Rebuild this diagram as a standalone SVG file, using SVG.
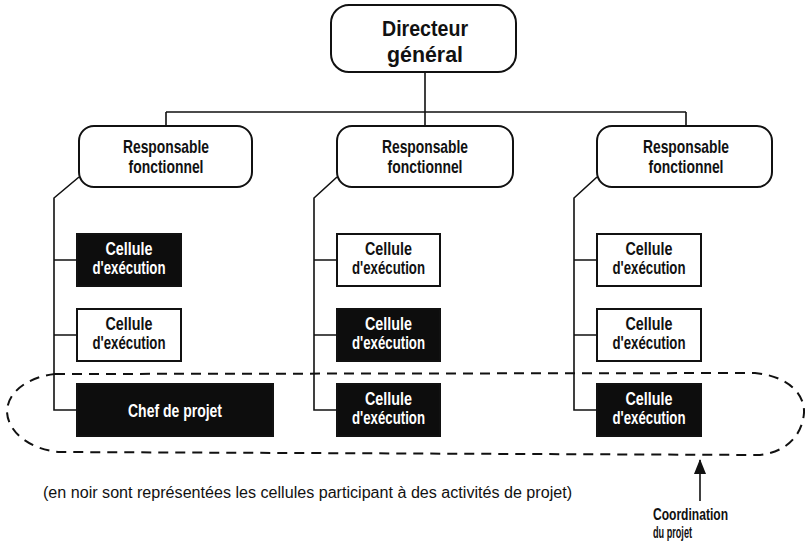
<svg xmlns="http://www.w3.org/2000/svg" width="805" height="545" viewBox="0 0 805 545">
  <style>
    .rbox { fill: #fff; stroke: #111; stroke-width: 2; }
    .cell { fill: #fff; stroke: #111; stroke-width: 2; }
    .cell.dark { fill: #0d0d0d; }
    .lbl { font-family: "Liberation Sans", Arial, sans-serif; font-weight: bold; fill: #111; text-anchor: middle; }
    .dark-lbl { fill: #fff; }
    .wire { fill: none; stroke: #111; stroke-width: 1.6; }
    .note { font-family: "Liberation Sans", Arial, sans-serif; fill: #111; }
  </style>
  <defs>
    <marker id="arrow" viewBox="0 0 15 12" refX="14" refY="6" markerWidth="15" markerHeight="12" markerUnits="userSpaceOnUse" orient="auto">
      <path d="M0,0 L15,6 L0,12 Z" fill="#111"/>
    </marker>
  </defs>

  <rect width="805" height="545" fill="#fff"/>

  <!-- connectors -->
  <g id="connectors">
    <path class="wire" d="M425,72 V112 M166,112 H686 M166,112 V126 M425,112 V126 M686,112 V126"/>
    <!-- left branch -->
    <path class="wire" d="M79,177 L54,198 V410 H77 M54,260 H77 M54,335 H77"/>
    <!-- middle branch -->
    <path class="wire" d="M337,177 L314,198 V410 H337 M314,260 H337 M314,335 H337"/>
    <!-- right branch -->
    <path class="wire" d="M597,177 L574,198 V410 H597 M574,260 H597 M574,335 H597"/>
    <!-- project coordination ring -->
    <path fill="none" stroke="#111" stroke-width="2" stroke-dasharray="10 7" d="M55,374 L755,373 C788,376 805,394 804,413 C802,436 786,452 760,455 L60,452 C30,450 8,432 7,412 C7,392 28,377 55,374 Z"/>
    <path class="wire" stroke-width="2" d="M700,501 V460" marker-end="url(#arrow)"/>
  </g>

  <g id="directeur">
    <rect class="rbox" x="331" y="5" width="185" height="67" rx="18"/>
    <text class="lbl" x="425" y="36" font-size="22" textLength="86" lengthAdjust="spacingAndGlyphs">Directeur</text>
    <text class="lbl" x="425" y="62" font-size="22" textLength="76" lengthAdjust="spacingAndGlyphs">général</text>
  </g>

  <g id="resp-1">
    <rect class="rbox" x="79" y="126" width="173" height="61" rx="15"/>
    <text class="lbl" x="166" y="153" font-size="19" textLength="86" lengthAdjust="spacingAndGlyphs">Responsable</text>
    <text class="lbl" x="166" y="173" font-size="19" textLength="75" lengthAdjust="spacingAndGlyphs">fonctionnel</text>
  </g>
  <g id="resp-2">
    <rect class="rbox" x="337" y="126" width="176" height="61" rx="15"/>
    <text class="lbl" x="425" y="153" font-size="19" textLength="86" lengthAdjust="spacingAndGlyphs">Responsable</text>
    <text class="lbl" x="425" y="173" font-size="19" textLength="75" lengthAdjust="spacingAndGlyphs">fonctionnel</text>
  </g>
  <g id="resp-3">
    <rect class="rbox" x="597" y="126" width="175" height="61" rx="15"/>
    <text class="lbl" x="686" y="153" font-size="19" textLength="86" lengthAdjust="spacingAndGlyphs">Responsable</text>
    <text class="lbl" x="686" y="173" font-size="19" textLength="75" lengthAdjust="spacingAndGlyphs">fonctionnel</text>
  </g>

  <!-- left column -->
  <g id="cell-1a">
    <rect class="cell dark" x="77" y="234" width="104" height="52"/>
    <text class="lbl dark-lbl" x="129" y="255" font-size="19" textLength="47" lengthAdjust="spacingAndGlyphs">Cellule</text>
    <text class="lbl dark-lbl" x="129" y="274" font-size="19" textLength="73" lengthAdjust="spacingAndGlyphs">d'exécution</text>
  </g>
  <g id="cell-1b">
    <rect class="cell" x="77" y="309" width="104" height="52"/>
    <text class="lbl" x="129" y="330" font-size="19" textLength="47" lengthAdjust="spacingAndGlyphs">Cellule</text>
    <text class="lbl" x="129" y="349" font-size="19" textLength="73" lengthAdjust="spacingAndGlyphs">d'exécution</text>
  </g>
  <g id="chef-projet">
    <rect class="cell dark" x="77" y="384" width="196" height="52"/>
    <text class="lbl dark-lbl" x="175" y="417" font-size="19" textLength="94" lengthAdjust="spacingAndGlyphs">Chef de projet</text>
  </g>

  <!-- middle column -->
  <g id="cell-2a">
    <rect class="cell" x="337" y="234" width="103" height="52"/>
    <text class="lbl" x="388.5" y="255" font-size="19" textLength="47" lengthAdjust="spacingAndGlyphs">Cellule</text>
    <text class="lbl" x="388.5" y="274" font-size="19" textLength="73" lengthAdjust="spacingAndGlyphs">d'exécution</text>
  </g>
  <g id="cell-2b">
    <rect class="cell dark" x="337" y="309" width="103" height="52"/>
    <text class="lbl dark-lbl" x="388.5" y="330" font-size="19" textLength="47" lengthAdjust="spacingAndGlyphs">Cellule</text>
    <text class="lbl dark-lbl" x="388.5" y="349" font-size="19" textLength="73" lengthAdjust="spacingAndGlyphs">d'exécution</text>
  </g>
  <g id="cell-2c">
    <rect class="cell dark" x="337" y="384" width="103" height="52"/>
    <text class="lbl dark-lbl" x="388.5" y="405" font-size="19" textLength="47" lengthAdjust="spacingAndGlyphs">Cellule</text>
    <text class="lbl dark-lbl" x="388.5" y="424" font-size="19" textLength="73" lengthAdjust="spacingAndGlyphs">d'exécution</text>
  </g>

  <!-- right column -->
  <g id="cell-3a">
    <rect class="cell" x="597" y="234" width="104" height="52"/>
    <text class="lbl" x="649" y="255" font-size="19" textLength="47" lengthAdjust="spacingAndGlyphs">Cellule</text>
    <text class="lbl" x="649" y="274" font-size="19" textLength="73" lengthAdjust="spacingAndGlyphs">d'exécution</text>
  </g>
  <g id="cell-3b">
    <rect class="cell" x="597" y="309" width="104" height="52"/>
    <text class="lbl" x="649" y="330" font-size="19" textLength="47" lengthAdjust="spacingAndGlyphs">Cellule</text>
    <text class="lbl" x="649" y="349" font-size="19" textLength="73" lengthAdjust="spacingAndGlyphs">d'exécution</text>
  </g>
  <g id="cell-3c">
    <rect class="cell dark" x="597" y="384" width="104" height="52"/>
    <text class="lbl dark-lbl" x="649" y="405" font-size="19" textLength="47" lengthAdjust="spacingAndGlyphs">Cellule</text>
    <text class="lbl dark-lbl" x="649" y="424" font-size="19" textLength="73" lengthAdjust="spacingAndGlyphs">d'exécution</text>
  </g>

  <g id="legend">
    <text class="note" x="43" y="498" font-size="16" textLength="529" lengthAdjust="spacingAndGlyphs">(en noir sont représentées les cellules participant à des activités de projet)</text>
  </g>
  <g id="coordination">
    <text class="lbl" x="653" y="520" font-size="16" style="text-anchor:start" textLength="75" lengthAdjust="spacingAndGlyphs">Coordination</text>
    <text class="lbl" x="653" y="538" font-size="16" style="text-anchor:start" textLength="39" lengthAdjust="spacingAndGlyphs">du projet</text>
  </g>
</svg>
